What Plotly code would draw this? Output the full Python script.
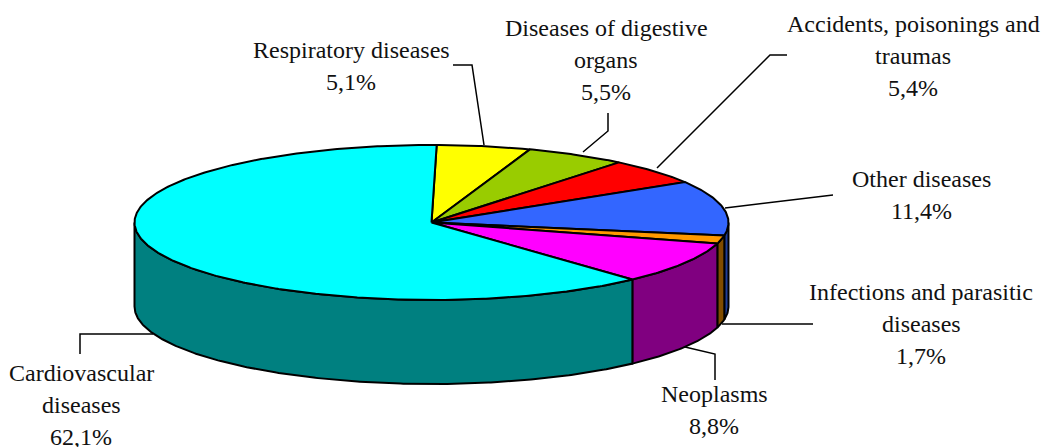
import numpy as np
import plotly.graph_objects as go

# ---- data ----
categories = ["Respiratory diseases", "Diseases of digestive organs",
              "Accidents, poisonings and traumas", "Other diseases",
              "Infections and parasitic diseases", "Neoplasms",
              "Cardiovascular diseases"]
shares = [5.1, 5.5, 5.4, 11.4, 1.7, 8.8, 62.1]
share_labels = ["5,1%", "5,5%", "5,4%", "11,4%", "1,7%", "8,8%", "62,1%"]

# ---- style ----
top_colors = ["#FFFF00", "#99CC00", "#FF0000", "#3366FF", "#FF9900", "#FF00FF", "#00FFFF"]
side_colors = ["#808000", "#4D6600", "#800000", "#1F3D99", "#804C00", "#800080", "#008080"]

# ---- layout of the drawing, in pixels ----
W, H = 1041, 447
CX, CY, RX, RY, DEPTH = 431.5, 222.5, 297.0, 77.5, 84.0
START = 1.0
FONT = dict(family="Liberation Serif", size=24, color="#111111")
LINE_GAP = 32.0

label_lines = [
    ["Respiratory diseases", share_labels[0]],
    ["Diseases of digestive", "organs", share_labels[1]],
    ["Accidents, poisonings and", "traumas", share_labels[2]],
    ["Other diseases", share_labels[3]],
    ["Infections and parasitic", "diseases", share_labels[4]],
    ["Neoplasms", share_labels[5]],
    ["Cardiovascular", "diseases", share_labels[6]],
]
label_anchor = [(351, 49.5), (606, 28), (913, 24), (921, 179), (921, 292), (714, 394), (81, 373)]
leaders = [
    [(453, 65), (472, 65), (484, 145)],
    [(608, 113), (608, 131), (583, 152)],
    [(787, 55), (770, 55), (657, 168)],
    [(833, 195), (725, 208)],
    [(813, 324), (722, 324)],
    [(715, 380), (715, 354), (685, 347)],
    [(80, 354), (80, 334), (153, 334)],
]


def rim(a0, a1, dy=0.0):
    t = np.radians(np.linspace(a0, a1, max(2, int(abs(a1 - a0) * 2) + 1)))
    return CX + RX * np.sin(t), CY - RY * np.cos(t) + dy


edges = START + np.concatenate([[0], np.cumsum(shares)]) * 3.6
fig = go.Figure()


def poly(x, y, color, name):
    fig.add_trace(go.Scatter(
        x=x, y=y, mode="lines", fill="toself", fillcolor=color, name=name,
        line=dict(color="black", width=2), hoverinfo="skip", showlegend=False))


# side walls: only the part of each slice facing the viewer (90..270 degrees)
for name, a0, a1, col in zip(categories, edges[:-1], edges[1:], side_colors):
    lo, hi = max(a0, 90), min(a1, 270)
    if lo < hi:
        xt, yt = rim(lo, hi)
        xb, yb = rim(lo, hi, DEPTH)
        poly(np.r_[xt, xb[::-1], xt[0]], np.r_[yt, yb[::-1], yt[0]], col, name + " (side)")

# top faces
for name, a0, a1, col in zip(categories, edges[:-1], edges[1:], top_colors):
    xt, yt = rim(a0, a1)
    poly(np.r_[CX, xt, CX], np.r_[CY, yt, CY], col, name)

annotations = []
for lines, (ax, ay) in zip(label_lines, label_anchor):
    for i, txt in enumerate(lines):
        annotations.append(dict(x=ax, y=ay + i * LINE_GAP, text=txt, xref="x", yref="y",
                                showarrow=False, xanchor="center", yanchor="middle", font=FONT))

shapes = []
for pts in leaders:
    path = "M " + " L ".join(f"{px},{py}" for px, py in pts)
    shapes.append(dict(type="path", path=path, xref="x", yref="y", layer="below",
                       line=dict(color="black", width=1.5)))

fig.update_layout(
    width=W, height=H, margin=dict(l=0, r=0, t=0, b=0),
    paper_bgcolor="white", plot_bgcolor="white", showlegend=False,
    xaxis=dict(range=[0, W], visible=False, fixedrange=True),
    yaxis=dict(range=[H, 0], visible=False, fixedrange=True),
    annotations=annotations, shapes=shapes,
)
fig.write_html("out.html", config={"displayModeBar": False},
               post_script="document.body.style.margin='0';document.body.style.overflow='hidden';")
